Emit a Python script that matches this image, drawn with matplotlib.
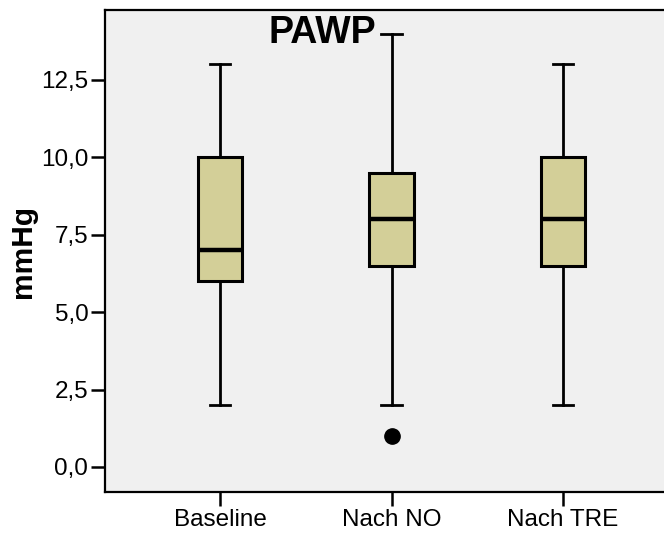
import matplotlib.pyplot as plt
from matplotlib.ticker import FuncFormatter

plt.rcParams['font.family'] = ['Liberation Sans', 'DejaVu Sans']

groups = ['Baseline', 'Nach NO', 'Nach TRE']
whisker_low = [2, 2, 2]
q1 = [6, 6.5, 6.5]
medians = [7, 8, 8]
q3 = [10, 9.5, 10]
whisker_high = [13, 14, 13]
outliers = [[], [1], []]

stats = []
for i, name in enumerate(groups):
    stats.append({
        'label': name,
        'whislo': whisker_low[i],
        'q1': q1[i],
        'med': medians[i],
        'q3': q3[i],
        'whishi': whisker_high[i],
        'fliers': outliers[i],
    })

fig = plt.figure(figsize=(6.64, 5.34), dpi=100)
ax = fig.add_axes([105 / 664, 42 / 534, 573 / 664, 482 / 534])
ax.set_facecolor('#f0f0f0')

ax.bxp(stats, positions=[1, 2, 3], widths=0.26, capwidths=0.12,
       patch_artist=True, showfliers=True,
       boxprops=dict(facecolor='#d3cf98', edgecolor='black', linewidth=2.2),
       medianprops=dict(color='black', linewidth=3.2),
       whiskerprops=dict(color='black', linewidth=2),
       capprops=dict(color='black', linewidth=2),
       flierprops=dict(marker='o', markerfacecolor='black',
                       markeredgecolor='black', markersize=11))

ax.set_xlim(0.33, 3.67)
ax.set_ylim(-0.81, 14.76)
ax.set_yticks([0, 2.5, 5, 7.5, 10, 12.5])
ax.yaxis.set_major_formatter(FuncFormatter(lambda v, p: f"{v:.1f}".replace('.', ',')))
ax.set_xticks([1, 2, 3])
ax.set_xticklabels(groups)

for side in ['left', 'bottom', 'top']:
    ax.spines[side].set_linewidth(1.6)
ax.spines['right'].set_visible(False)
ax.tick_params(axis='both', length=10, width=1.8, labelsize=17.5, pad=2)

fig.text(23 / 664, 1 - 252 / 534, 'mmHg', fontsize=21.5, fontweight='bold',
         rotation=90, ha='center', va='center')
fig.text(322 / 664, 1 - 43 / 534, 'PAWP', fontsize=27, fontweight='bold',
         ha='center', va='baseline')

plt.savefig('out.png', dpi=100)
